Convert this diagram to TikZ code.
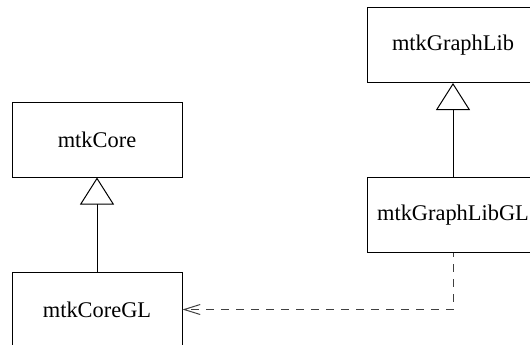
\documentclass[tikz,border=0pt]{standalone}
\usepackage{fontspec}
\setmainfont{Liberation Serif}
\usepackage{tikz}
\usetikzlibrary{arrows.meta,positioning}
\tikzset{
  cls/.style  = {draw, line width=0.5pt, minimum width=85pt, minimum height=37.5pt,
                 inner sep=2pt, font=\fontsize{11.2}{13}\selectfont},
  inh/.style  = {-{Triangle[open, length=13.5pt, width=17pt, fill=white]}, line width=0.5pt},
  dep/.style  = {-{Straight Barb[length=8pt, width=5pt]}, line width=0.5pt,
                 dash pattern=on 4pt off 3.5pt, dash phase=2pt, black!75},
}

\begin{document}
\begin{tikzpicture}[x=0.5pt, y=-0.5pt, node distance=47pt]
  \clip (0,0) rectangle (530,344);
  \node[cls] (core) at (97,139.5) {mtkCore};
  \node[cls, below=of core] (coregl) {mtkCoreGL};
  \node[cls, minimum width=86pt] (glib) at (453,45) {mtkGraphLib};
  \node[cls, minimum width=86pt, below=of glib] (glibgl) {mtkGraphLibGL};
  \draw[inh] (coregl) -- (core);
  \draw[inh] (glibgl) -- (glib);
  \draw[dep] (glibgl.south) |- (coregl.east);
\end{tikzpicture}
\end{document}
